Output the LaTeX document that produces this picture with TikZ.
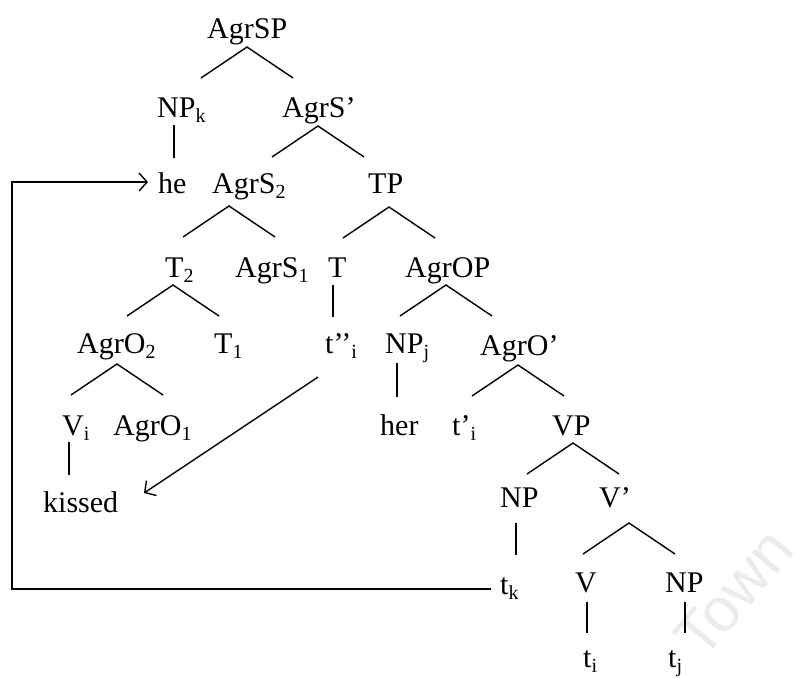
\documentclass[tikz,border=0pt]{standalone}
\usepackage{fontspec}
\setmainfont{Liberation Serif}
\newfontfamily\wmfont{Liberation Sans}
\usetikzlibrary{arrows.meta}
\newcommand\sbs[1]{\raisebox{-5pt}{\fontsize{20}{20}\selectfont #1}}
\newcommand\brnch[3]{\coordinate (#1) at (#2,#3); \draw[edge] (#1) +(-46,31) -- (#1) -- +(46,31);}
\begin{document}
\begin{tikzpicture}[x=1pt,y=-1pt,
  lab/.style={anchor=base west, inner sep=0pt, font=\fontsize{30}{35}\selectfont},
  edge/.style={line width=1.4pt},
  mv/.style={line width=1.7pt},
  tip/.style={-{Straight Barb[length=8pt,width=18pt,line width=1.4pt]}}]
\useasboundingbox (0,0) rectangle (794,677);
% watermark
\node[rotate=50, anchor=base west, inner sep=0pt, text=black!8, font=\wmfont\fontsize{62}{62}\selectfont] (wm) at (703,662) {Town};
% row 1
\node[lab] (AgrSP) at (207,38) {AgrSP};
% row 2
\node[lab] (NPk) at (157,117) {NP\sbs{k}};
\node[lab] (AgrSbar) at (282,117) {AgrS’};
% row 3
\node[lab] (he) at (158,193) {he};
\node[lab] (AgrS2) at (212,193) {AgrS\sbs{2}};
\node[lab] (TP) at (368,193) {TP};
% row 4
\node[lab] (T2) at (165,277) {T\sbs{2}};
\node[lab] (AgrS1) at (235,277) {AgrS\sbs{1}};
\node[lab] (T) at (328,277) {T};
\node[lab] (AgrOP) at (405,277) {AgrOP};
% row 5
\node[lab] (AgrO2) at (77,353) {AgrO\sbs{2}};
\node[lab] (T1) at (214,353) {T\sbs{1}};
\node[lab] (tpp) at (325,353) {t’’\sbs{i}};
\node[lab] (NPj) at (385,353) {NP\sbs{j}};
\node[lab] (AgrObar) at (480,355) {AgrO’};
% row 6
\node[lab] (Vi) at (62,435) {V\sbs{i}};
\node[lab] (AgrO1) at (113,435) {AgrO\sbs{1}};
\node[lab] (her) at (380,435) {her};
\node[lab] (tp) at (452,435) {t’\sbs{i}};
\node[lab] (VP) at (552,435) {VP};
% row 7
\node[lab] (kissed) at (43,512) {kissed};
\node[lab] (NP) at (500,507) {NP};
\node[lab] (Vbar) at (599,507) {V’};
% row 8
\node[lab] (tk) at (500,594) {t\sbs{k}};
\node[lab] (V) at (575,592) {V};
\node[lab] (NPo) at (665,592) {NP};
% row 9
\node[lab] (ti) at (583,667) {t\sbs{i}};
\node[lab] (tj) at (668,667) {t\sbs{j}};
% branches
\brnch{bAgrSP}{247}{47}
\brnch{bAgrSbar}{318}{126}
\brnch{bAgrS2}{229}{206}
\brnch{bTP}{389}{207}
\brnch{bT2}{173}{285}
\brnch{bAgrOP}{446}{285}
\brnch{bAgrO2}{117}{364}
\brnch{bAgrObar}{518}{365}
\brnch{bVP}{573}{443}
\brnch{bVbar}{629}{523}
% unary lines
\coordinate (u1a) at (174,125); \coordinate (u1b) at (174,158);
\coordinate (u2a) at (333,285); \coordinate (u2b) at (333,317);
\coordinate (u3a) at (397,363); \coordinate (u3b) at (397,397);
\coordinate (u4a) at (69,442);  \coordinate (u4b) at (69,475);
\coordinate (u5a) at (516,523); \coordinate (u5b) at (516,555);
\coordinate (u6a) at (587,602); \coordinate (u6b) at (587,633);
\coordinate (u7a) at (685,602); \coordinate (u7b) at (685,633);
\draw[edge] (u1a) -- (u1b);
\draw[edge] (u2a) -- (u2b);
\draw[edge] (u3a) -- (u3b);
\draw[edge] (u4a) -- (u4b);
\draw[edge] (u5a) -- (u5b);
\draw[edge] (u6a) -- (u6b);
\draw[edge] (u7a) -- (u7b);
% movement arrows
\coordinate (m1s) at (318,377); \coordinate (m1e) at (144,493);
\draw[edge,tip] (m1s) -- (m1e);
\coordinate (m2s) at (491,589); \coordinate (m2c1) at (12,589);
\coordinate (m2c2) at (12,182); \coordinate (m2e) at (148,182);
\draw[mv,tip] (m2s) -- (m2c1) -- (m2c2) -- (m2e);
\end{tikzpicture}
\end{document}
